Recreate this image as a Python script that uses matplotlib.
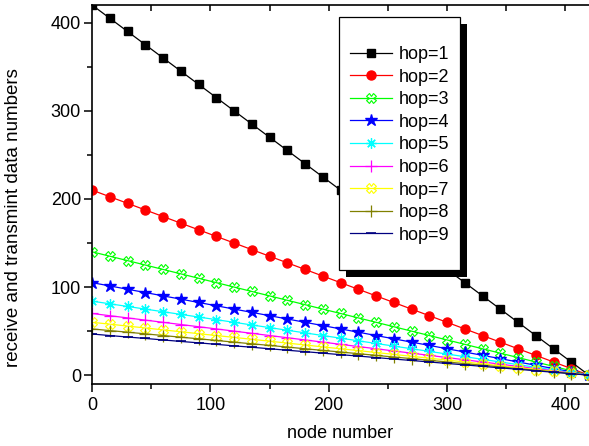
import matplotlib
matplotlib.use("Agg")
import matplotlib.pyplot as plt
from matplotlib.patches import Rectangle

plt.rcParams['font.family'] = ['Liberation Sans', 'DejaVu Sans']

node_number = [0, 15, 30, 45, 60, 75, 90, 105, 120, 135, 150, 165, 180, 195, 210,
               225, 240, 255, 270, 285, 300, 315, 330, 345, 360, 375, 390, 405, 420]

hop1 = [420, 405, 390, 375, 360, 345, 330, 315, 300, 285, 270, 255, 240, 225, 210,
        195, 180, 165, 150, 135, 120, 105, 90, 75, 60, 45, 30, 15, 0]
hop2 = [210, 202.5, 195, 187.5, 180, 172.5, 165, 157.5, 150, 142.5, 135, 127.5, 120, 112.5, 105,
        97.5, 90, 82.5, 75, 67.5, 60, 52.5, 45, 37.5, 30, 22.5, 15, 7.5, 0]
hop3 = [140, 135, 130, 125, 120, 115, 110, 105, 100, 95, 90, 85, 80, 75, 70,
        65, 60, 55, 50, 45, 40, 35, 30, 25, 20, 15, 10, 5, 0]
hop4 = [105, 101.3, 97.5, 93.8, 90, 86.3, 82.5, 78.8, 75, 71.3, 67.5, 63.8, 60, 56.3, 52.5,
        48.8, 45, 41.3, 37.5, 33.8, 30, 26.3, 22.5, 18.8, 15, 11.3, 7.5, 3.8, 0]
hop5 = [84, 81, 78, 75, 72, 69, 66, 63, 60, 57, 54, 51, 48, 45, 42,
        39, 36, 33, 30, 27, 24, 21, 18, 15, 12, 9, 6, 3, 0]
hop6 = [70, 67.5, 65, 62.5, 60, 57.5, 55, 52.5, 50, 47.5, 45, 42.5, 40, 37.5, 35,
        32.5, 30, 27.5, 25, 22.5, 20, 17.5, 15, 12.5, 10, 7.5, 5, 2.5, 0]
hop7 = [60, 57.9, 55.7, 53.6, 51.4, 49.3, 47.1, 45, 42.9, 40.7, 38.6, 36.4, 34.3, 32.1, 30,
        27.9, 25.7, 23.6, 21.4, 19.3, 17.1, 15, 12.9, 10.7, 8.6, 6.4, 4.3, 2.1, 0]
hop8 = [52.5, 50.6, 48.8, 46.9, 45, 43.1, 41.3, 39.4, 37.5, 35.6, 33.8, 31.9, 30, 28.1, 26.3,
        24.4, 22.5, 20.6, 18.8, 16.9, 15, 13.1, 11.3, 9.4, 7.5, 5.6, 3.8, 1.9, 0]
hop9 = [46.7, 45, 43.3, 41.7, 40, 38.3, 36.7, 35, 33.3, 31.7, 30, 28.3, 26.7, 25, 23.3,
        21.7, 20, 18.3, 16.7, 15, 13.3, 11.7, 10, 8.3, 6.7, 5, 3.3, 1.7, 0]

labels = ['hop=1', 'hop=2', 'hop=3', 'hop=4', 'hop=5', 'hop=6', 'hop=7', 'hop=8', 'hop=9']
series = [hop1, hop2, hop3, hop4, hop5, hop6, hop7, hop8, hop9]
colors = ['#000000', '#FF0000', '#00FF00', '#0000FF', '#00FFFF', '#FF00FF', '#FFFF00', '#808000', '#000080']
styles = [
    dict(marker='s', ms=5.5),
    dict(marker='o', ms=6.5),
    dict(marker='X', ms=7, mfc='none', mew=0.8),
    dict(marker='*', ms=9),
    dict(marker=(8, 2, 0), ms=7.5, mew=0.9),
    dict(marker='+', ms=8, mew=0.9),
    dict(marker='X', ms=7, mfc='none', mew=0.8),
    dict(marker='+', ms=8, mew=0.9),
    dict(marker='_', ms=7, mew=1.2),
]

fig = plt.figure(figsize=(5.89, 4.46), dpi=100)
ax = fig.add_axes([92/589, 62/446, 1 - 92/589, (384 - 5)/446])

for y, lab, c, st in zip(series, labels, colors, styles):
    ax.plot(node_number, y, color=c, lw=0.9, mec=c, label=lab,
            **({'mfc': c} | st))

ax.set_xlim(0, 420)
ax.set_ylim(-10, 420)
ax.set_xticks([0, 100, 200, 300, 400])
ax.set_xticks([50, 150, 250, 350], minor=True)
ax.set_yticks([0, 100, 200, 300, 400])
ax.set_yticks([50, 150, 250, 350], minor=True)

for s in ['left', 'bottom', 'top']:
    ax.spines[s].set_linewidth(1.2)
ax.spines['right'].set_visible(False)

ax.tick_params(axis='both', which='major', direction='out', length=6, width=1.1, labelsize=13, pad=2)
ax.tick_params(axis='both', which='minor', direction='out', length=3.5, width=1.1)
ax.tick_params(axis='x', which='major', pad=3)

# top ticks pointing inward
top = ax.secondary_xaxis('top')
top.set_xticks([50, 100, 150, 200, 250, 300, 350, 400])
top.tick_params(direction='in', length=4.5, width=1.1, labeltop=False)
top.spines['top'].set_visible(False)

ax.set_xlabel('node number', fontsize=13, labelpad=8)
ax.set_ylabel('receive and transmint data numbers', fontsize=13.5)
ax.yaxis.set_label_coords(-0.14, 0.44)

leg = ax.legend(loc='upper left', bbox_to_anchor=(350/589, 1 - 46/446),
                bbox_transform=fig.transFigure, frameon=False, fontsize=13,
                numpoints=1, handlelength=2.3, handletextpad=0.4,
                labelspacing=0.31, borderpad=0, borderaxespad=0)
leg.set_zorder(10)

# legend frame and shadow
fw, fh = 589, 446
frame = Rectangle((339/fw, 1 - 270/fh), (460-339)/fw, (270-17)/fh, transform=fig.transFigure,
                  facecolor='white', edgecolor='black', lw=0.9, zorder=8)
shadow = Rectangle((346/fw, 1 - 277/fh), (460-339)/fw, (270-17)/fh, transform=fig.transFigure,
                   facecolor='black', edgecolor='black', lw=0, zorder=7)
ax.add_artist(shadow)
ax.add_artist(frame)

fig.savefig('out.png', dpi=100)
